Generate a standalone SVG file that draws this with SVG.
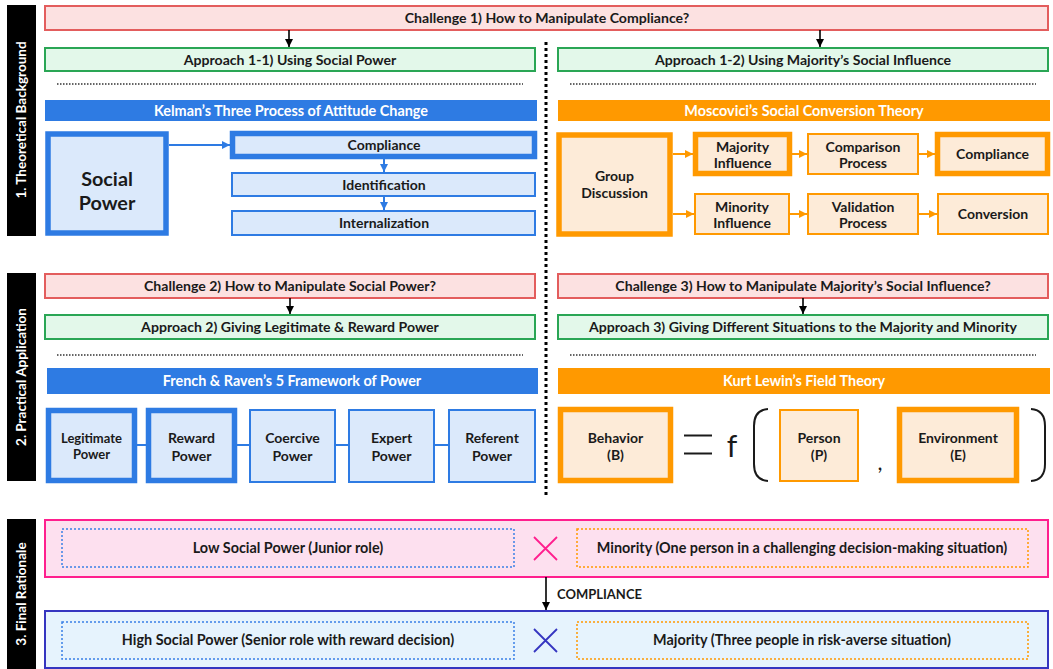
<svg xmlns="http://www.w3.org/2000/svg" width="1053" height="669" viewBox="0 0 1053 669">
<defs>
<style>
text{font-family:Lato,"Liberation Sans",sans-serif;font-weight:700;fill:#1a1a1a;text-anchor:middle}
.side{fill:#000}
.sidet{fill:#fff;font-size:13.5px}
.chal{fill:#fce1e1;stroke:#e35d5d;stroke-width:2}
.appr{fill:#e3f8ea;stroke:#2aa655;stroke-width:2}
.t13{font-size:14.1px}
.hb{fill:#2e7be3}
.ho{fill:#ff9900}
.ht{fill:#fff;font-size:14.4px}
.bt{fill:#dbe9fb;stroke:#2e7be3;stroke-width:5.5}
.bn{fill:#dbe9fb;stroke:#2e7be3;stroke-width:2}
.ot{fill:#fdebd8;stroke:#ff9900;stroke-width:5.5}
.on{fill:#fdebd8;stroke:#ff9900;stroke-width:2}
.dot{stroke:#333;stroke-width:1.3;stroke-dasharray:1.5 1.5;fill:none}
.bx{font-size:14px}
.cb{stroke:#2e7be3;stroke-width:2;fill:none}
.co{stroke:#ff9900;stroke-width:2;fill:none}
.ck{stroke:#000;stroke-width:1.6;fill:none}
.ft{font-size:14.4px}
</style>
<marker id="ak" viewBox="0 0 10 10" refX="10" refY="5" markerWidth="8" markerHeight="8" orient="auto" markerUnits="userSpaceOnUse"><path d="M0,0 L10,5 L0,10 z" fill="#000"/></marker>
<marker id="ab" viewBox="0 0 10 10" refX="10" refY="5" markerWidth="8" markerHeight="8" orient="auto" markerUnits="userSpaceOnUse"><path d="M0,0 L10,5 L0,10 z" fill="#2e7be3"/></marker>
<marker id="ao" viewBox="0 0 10 10" refX="10" refY="5" markerWidth="8" markerHeight="8" orient="auto" markerUnits="userSpaceOnUse"><path d="M0,0 L10,5 L0,10 z" fill="#ff9900"/></marker>
</defs>
<rect width="1053" height="669" fill="#fff"/>

<!-- Sidebars -->
<g id="sidebar-1"><rect class="side" x="7" y="5" width="29" height="231"/><text class="sidet" transform="translate(26,120) rotate(-90)">1. Theoretical Background</text></g>
<g id="sidebar-2"><rect class="side" x="7" y="273" width="29" height="208"/><text class="sidet" transform="translate(26,377) rotate(-90)">2. Practical Application</text></g>
<g id="sidebar-3"><rect class="side" x="7" y="519" width="29" height="150"/><text class="sidet" transform="translate(26,594) rotate(-90)">3. Final Rationale</text></g>

<!-- Section 1 -->
<g id="challenge-1"><rect class="chal" x="45" y="6" width="1003" height="24"/><text class="t13" x="547" y="23">Challenge 1) How to Manipulate Compliance?</text></g>
<g id="approach-1-1"><rect class="appr" x="45" y="48" width="490" height="23"/><text class="t13" x="290" y="64.5">Approach 1-1) Using Social Power</text></g>
<g id="approach-1-2"><rect class="appr" x="558" y="48" width="490" height="23"/><text class="t13" x="803" y="64.5">Approach 1-2) Using Majority’s Social Influence</text></g>
<g id="kelman-header"><rect class="hb" x="45" y="100" width="492" height="21"/><text class="ht" x="291" y="115.5">Kelman’s Three Process of Attitude Change</text></g>
<g id="moscovici-header"><rect class="ho" x="558" y="100" width="492" height="21"/><text class="ht" x="804" y="115.5">Moscovici’s Social Conversion Theory</text></g>

<g id="social-power"><rect class="bt" x="48" y="134" width="118" height="99"/><text x="107" y="186" font-size="19.8">Social</text><text x="107" y="210" font-size="19.8">Power</text></g>
<g id="k-compliance"><rect class="bt" x="232.5" y="133.5" width="302" height="23"/><text class="bx" x="384" y="150">Compliance</text></g>
<g id="k-identification"><rect class="bn" x="232" y="173" width="303" height="23"/><text class="bx" x="384" y="189.5">Identification</text></g>
<g id="k-internalization"><rect class="bn" x="232" y="211" width="303" height="24"/><text class="bx" x="384" y="228">Internalization</text></g>

<g id="group-discussion"><rect class="ot" x="559" y="135" width="111" height="99"/><text class="bx" x="614.5" y="181">Group</text><text class="bx" x="614.5" y="198">Discussion</text></g>
<g id="majority-influence"><rect class="ot" x="695.5" y="134.5" width="94" height="39"/><text class="bx" x="742.5" y="151.5">Majority</text><text class="bx" x="742.5" y="168">Influence</text></g>
<g id="comparison-process"><rect class="on" x="808" y="134" width="110" height="40"/><text class="bx" x="863" y="151.5">Comparison</text><text class="bx" x="863" y="168">Process</text></g>
<g id="m-compliance"><rect class="ot" x="937.5" y="134.5" width="110" height="39"/><text class="bx" x="992.5" y="159">Compliance</text></g>
<g id="minority-influence"><rect class="on" x="695" y="194" width="94" height="40"/><text class="bx" x="742" y="211.5">Minority</text><text class="bx" x="742" y="228">Influence</text></g>
<g id="validation-process"><rect class="on" x="808" y="194" width="110" height="40"/><text class="bx" x="863" y="211.5">Validation</text><text class="bx" x="863" y="228">Process</text></g>
<g id="conversion"><rect class="on" x="938" y="194" width="110" height="40"/><text class="bx" x="993" y="219">Conversion</text></g>

<!-- Section 2 -->
<g id="challenge-2"><rect class="chal" x="45" y="274" width="490" height="24"/><text class="t13" x="290" y="291">Challenge 2) How to Manipulate Social Power?</text></g>
<g id="challenge-3"><rect class="chal" x="558" y="274" width="490" height="24"/><text class="t13" x="803" y="291">Challenge 3) How to Manipulate Majority’s Social Influence?</text></g>
<g id="approach-2"><rect class="appr" x="45" y="315" width="490" height="24"/><text class="t13" x="290" y="332">Approach 2) Giving Legitimate &amp; Reward Power</text></g>
<g id="approach-3"><rect class="appr" x="558" y="315" width="490" height="24"/><text class="t13" x="803" y="332">Approach 3) Giving Different Situations to the Majority and Minority</text></g>
<g id="french-header"><rect class="hb" x="47" y="368" width="491" height="26"/><text class="ht" x="292" y="386">French &amp; Raven’s 5 Framework of Power</text></g>
<g id="lewin-header"><rect class="ho" x="558" y="368" width="492" height="26"/><text class="ht" x="804" y="386">Kurt Lewin’s Field Theory</text></g>

<g id="legitimate-power"><rect class="bt" x="48.5" y="410.5" width="86" height="70"/><text x="91.5" y="443" font-size="13">Legitimate</text><text x="91.5" y="459" font-size="13">Power</text></g>
<g id="reward-power"><rect class="bt" x="148.5" y="410.5" width="86" height="70"/><text class="bx" x="191.5" y="443">Reward</text><text class="bx" x="191.5" y="461">Power</text></g>
<g id="coercive-power"><rect class="bn" x="250" y="410" width="85" height="72"/><text class="bx" x="292.5" y="443">Coercive</text><text class="bx" x="292.5" y="461">Power</text></g>
<g id="expert-power"><rect class="bn" x="349" y="410" width="85" height="72"/><text class="bx" x="391.5" y="443">Expert</text><text class="bx" x="391.5" y="461">Power</text></g>
<g id="referent-power"><rect class="bn" x="449" y="410" width="86" height="72"/><text class="bx" x="492" y="443">Referent</text><text class="bx" x="492" y="461">Power</text></g>

<g id="behavior"><rect class="ot" x="560.5" y="409.5" width="110" height="71"/><text class="bx" x="615.5" y="443">Behavior</text><text class="bx" x="615.5" y="460">(B)</text></g>
<g id="equation">
<line x1="684" y1="435.5" x2="712" y2="435.5" stroke="#1a1a1a" stroke-width="2"/>
<line x1="684" y1="453.5" x2="712" y2="453.5" stroke="#1a1a1a" stroke-width="2"/>
<text x="732" y="457" font-size="30" style="font-weight:400">f</text>
<path d="M768,409 Q754,410 754,426 L754,464 Q754,480 768,481" fill="none" stroke="#1a1a1a" stroke-width="2"/>
<text x="880" y="470" font-size="22" style="font-weight:400">,</text>
<path d="M1031,409 Q1045,410 1045,426 L1045,464 Q1045,480 1031,481" fill="none" stroke="#1a1a1a" stroke-width="2"/>
</g>
<g id="person"><rect class="on" x="780" y="410" width="78" height="71"/><text class="bx" x="819" y="443">Person</text><text class="bx" x="819" y="460">(P)</text></g>
<g id="environment"><rect class="ot" x="899.5" y="409.5" width="117" height="71"/><text class="bx" x="958" y="443">Environment</text><text class="bx" x="958" y="460">(E)</text></g>

<!-- Section 3 -->
<g id="low-row"><rect x="45" y="520" width="1003" height="57" fill="#fde0ef" stroke="#ff1f8e" stroke-width="2"/>
<rect x="62" y="529" width="452" height="38" fill="none" stroke="#3a80e6" stroke-width="1.5" stroke-dasharray="2 2"/>
<text class="ft" x="288" y="553">Low Social Power (Junior role)</text>
<path d="M534,537 L557,560 M557,537 L534,560" stroke="#ff1f8e" stroke-width="1.8" fill="none"/>
<rect x="577" y="529" width="451" height="38" fill="none" stroke="#ff9900" stroke-width="1.5" stroke-dasharray="2 2"/>
<text class="ft" x="802" y="553">Minority (One person in a challenging decision-making situation)</text></g>
<g id="high-row"><rect x="45" y="611" width="1003" height="57" fill="#e6f3fd" stroke="#3535c0" stroke-width="2"/>
<rect x="62" y="622" width="452" height="37" fill="none" stroke="#3a80e6" stroke-width="1.5" stroke-dasharray="2 2"/>
<text class="ft" x="288" y="645">High Social Power (Senior role with reward decision)</text>
<path d="M534,629 L557,652 M557,629 L534,652" stroke="#3535c0" stroke-width="1.8" fill="none"/>
<rect x="577" y="622" width="451" height="37" fill="none" stroke="#ff9900" stroke-width="1.5" stroke-dasharray="2 2"/>
<text class="ft" x="802" y="645">Majority (Three people in risk-averse situation)</text></g>
<g id="compliance-label"><text x="557" y="599" font-size="13" style="text-anchor:start">COMPLIANCE</text></g>

<!-- Connectors and separators -->
<g id="connectors">
<line class="ck" x1="289" y1="30" x2="289" y2="47" marker-end="url(#ak)"/>
<line class="ck" x1="820" y1="30" x2="820" y2="47" marker-end="url(#ak)"/>
<line class="ck" x1="290" y1="298" x2="290" y2="314" marker-end="url(#ak)"/>
<line class="ck" x1="803" y1="298" x2="803" y2="314" marker-end="url(#ak)"/>
<line class="ck" x1="546" y1="577" x2="546" y2="610" marker-end="url(#ak)"/>
<line class="cb" x1="169" y1="145" x2="230" y2="145" marker-end="url(#ab)"/>
<line class="cb" x1="384" y1="159" x2="384" y2="172" marker-end="url(#ab)"/>
<line class="cb" x1="384" y1="197" x2="384" y2="210" marker-end="url(#ab)"/>
<line class="co" x1="673" y1="154" x2="693" y2="154" marker-end="url(#ao)"/>
<line class="co" x1="792" y1="154" x2="807" y2="154" marker-end="url(#ao)"/>
<line class="co" x1="919" y1="154" x2="935" y2="154" marker-end="url(#ao)"/>
<line class="co" x1="673" y1="214" x2="694" y2="214" marker-end="url(#ao)"/>
<line class="co" x1="790" y1="214" x2="807" y2="214" marker-end="url(#ao)"/>
<line class="co" x1="919" y1="214" x2="937" y2="214" marker-end="url(#ao)"/>
<line class="cb" x1="137" y1="445" x2="146" y2="445"/>
<line class="cb" x1="237" y1="445" x2="249" y2="445"/>
<line class="cb" x1="336" y1="445" x2="348" y2="445"/>
<line class="cb" x1="435" y1="445" x2="448" y2="445"/>
<line class="dot" x1="57" y1="84" x2="523" y2="84"/>
<line class="dot" x1="570" y1="84" x2="1036" y2="84"/>
<line class="dot" x1="57" y1="355" x2="523" y2="355"/>
<line class="dot" x1="570" y1="355" x2="1036" y2="355"/>
<line x1="546" y1="42" x2="546" y2="495" stroke="#000" stroke-width="3" stroke-dasharray="3 3"/>
</g>
</svg>
